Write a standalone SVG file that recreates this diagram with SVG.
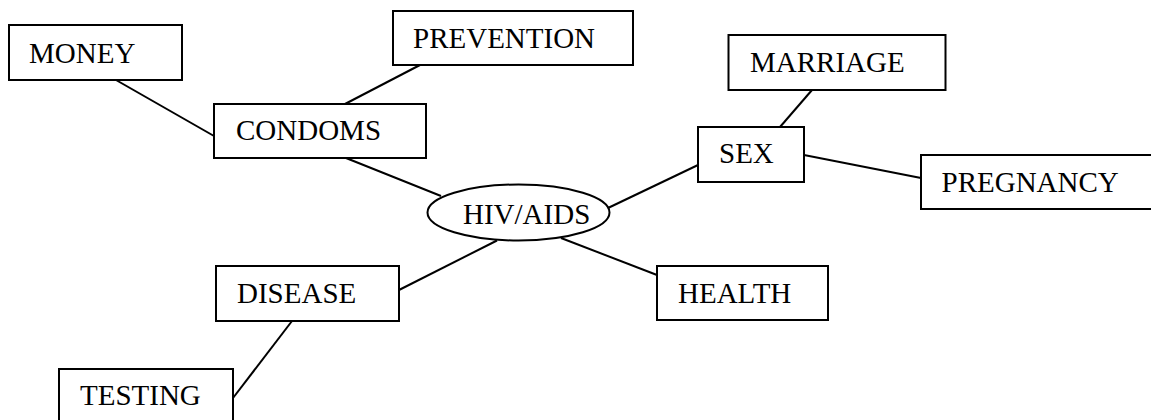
<svg xmlns="http://www.w3.org/2000/svg" width="1151" height="420" viewBox="0 0 1151 420">
<style>
.box{fill:#fff;stroke:#000;stroke-width:2}
.lbl{font-family:"Liberation Serif","Times New Roman",serif;font-size:29px;fill:#000}
.edge{stroke:#000;stroke-width:2;fill:none}
</style>
<rect width="1151" height="420" fill="#fff"/>
<g id="connectors">
<line class="edge" x1="116" y1="80" x2="214" y2="136"/>
<line class="edge" x1="420" y1="65" x2="345" y2="104"/>
<line class="edge" x1="346" y1="158" x2="441" y2="196"/>
<line class="edge" x1="812" y1="90" x2="780" y2="127"/>
<line class="edge" x1="804" y1="155" x2="921" y2="178"/>
<line class="edge" x1="698" y1="165" x2="608" y2="208"/>
<line class="edge" x1="399" y1="290" x2="497" y2="240.5"/>
<line class="edge" x1="561" y1="238" x2="657" y2="275"/>
<line class="edge" x1="292" y1="321" x2="233" y2="398"/>
</g>
<g id="money"><rect class="box" x="9" y="25" width="173" height="55"/><text class="lbl" x="29" y="63">MONEY</text></g>
<g id="prevention"><rect class="box" x="393" y="11" width="240" height="54"/><text class="lbl" x="413" y="48">PREVENTION</text></g>
<g id="condoms"><rect class="box" x="214" y="104" width="212" height="54"/><text class="lbl" x="236" y="140">CONDOMS</text></g>
<g id="marriage"><rect class="box" x="728.5" y="35" width="217" height="55"/><text class="lbl" x="750" y="72">MARRIAGE</text></g>
<g id="sex"><rect class="box" x="698" y="127" width="106" height="55"/><text class="lbl" x="719" y="163">SEX</text></g>
<g id="pregnancy"><rect class="box" x="921" y="155" width="240" height="54"/><text class="lbl" x="941.5" y="192">PREGNANCY</text></g>
<g id="hivaids"><ellipse class="box" cx="518.5" cy="212.5" rx="91" ry="28"/><text class="lbl" x="463" y="223.5">HIV/AIDS</text></g>
<g id="health"><rect class="box" x="657" y="266" width="171" height="54"/><text class="lbl" x="678" y="303">HEALTH</text></g>
<g id="disease"><rect class="box" x="216" y="266" width="183" height="55"/><text class="lbl" x="237" y="303">DISEASE</text></g>
<g id="testing"><rect class="box" x="59" y="369" width="174" height="60"/><text class="lbl" x="80" y="405">TESTING</text></g>
</svg>
